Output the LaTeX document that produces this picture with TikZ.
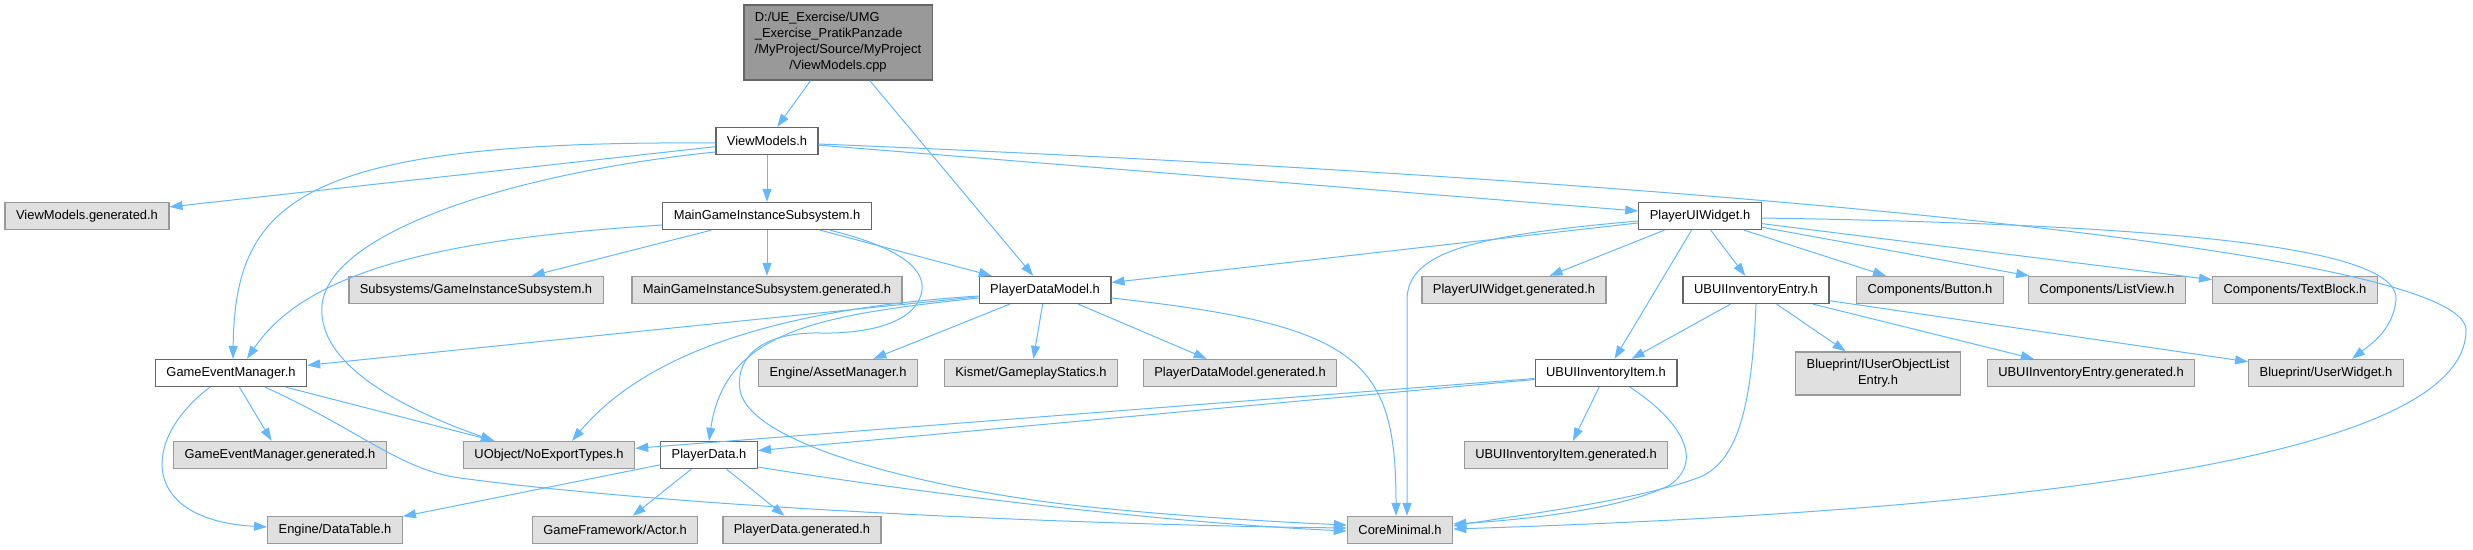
\documentclass[tikz,border=0pt]{standalone}
\usepackage{fontspec}
\setmainfont{Liberation Sans}
\usepackage{xcolor}
\usetikzlibrary{arrows.meta}
\definecolor{edgeC}{HTML}{63B8FF}
\definecolor{rootC}{HTML}{999999}
\definecolor{lineC}{HTML}{666666}
\definecolor{extC}{HTML}{E0E0E0}
\definecolor{extLine}{HTML}{999999}

\begin{document}
\begin{tikzpicture}[
  x=1pt,y=-1pt,
  box/.style={draw=lineC,fill=white,line width=1.3pt,align=center,
              inner xsep=11pt,inner ysep=7.5pt,minimum height=27pt,
              font=\fontsize{12.9}{16}\selectfont},
  ext/.style={box,draw=extLine,fill=extC},
  rootbox/.style={box,fill=rootC,inner ysep=5.5pt},
  arr/.style={-{Triangle[length=13pt,width=9pt]},draw=edgeC,line width=1pt}
]
  \useasboundingbox (0,0) rectangle (2473,549);

  % Source file
  \node[rootbox] (root) at (838,42.5)
    {\begin{tabular}{@{}l@{}}D:/UE\_Exercise/UMG\\
     \_Exercise\_PratikPanzade\\
     /MyProject/Source/MyProject\\
     \multicolumn{1}{@{}c@{}}{/ViewModels.cpp}\end{tabular}};

  % Rank 1
  \node[box] (vmh) at (767,141) {ViewModels.h};

  % Rank 2
  \node[ext] (vmgen) at (87,216) {ViewModels.generated.h};
  \node[box] (mgis) at (767,216) {MainGameInstanceSubsystem.h};
  \node[box] (puw) at (1700,216) {PlayerUIWidget.h};

  % Rank 3
  \node[ext] (subsys) at (476,290) {Subsystems/GameInstanceSubsystem.h};
  \node[ext] (mgisgen) at (767,290) {MainGameInstanceSubsystem.generated.h};
  \node[box] (pdm) at (1045,290) {PlayerDataModel.h};
  \node[ext] (puwgen) at (1514,290) {PlayerUIWidget.generated.h};
  \node[box] (entry) at (1756,290) {UBUIInventoryEntry.h};
  \node[ext] (button) at (1930,290) {Components/Button.h};
  \node[ext] (listview) at (2107,290) {Components/ListView.h};
  \node[ext] (textblock) at (2295,290) {Components/TextBlock.h};

  % Rank 4
  \node[box] (gem) at (231,373) {GameEventManager.h};
  \node[ext] (asset) at (838,373) {Engine/AssetManager.h};
  \node[ext] (kismet) at (1031,373) {Kismet/GameplayStatics.h};
  \node[ext] (pdmgen) at (1240,373) {PlayerDataModel.generated.h};
  \node[box] (item) at (1606,373) {UBUIInventoryItem.h};
  \node[ext] (iuol) at (1878,373.5) {Blueprint/IUserObjectList\\Entry.h};
  \node[ext] (entrygen) at (2091,373) {UBUIInventoryEntry.generated.h};
  \node[ext] (userwidget) at (2326,373) {Blueprint/UserWidget.h};

  % Rank 5
  \node[ext] (gemgen) at (280,455) {GameEventManager.generated.h};
  \node[ext] (noexport) at (549,455) {UObject/NoExportTypes.h};
  \node[box] (pdata) at (709,455) {PlayerData.h};
  \node[ext] (itemgen) at (1566,455) {UBUIInventoryItem.generated.h};

  % Rank 6
  \node[ext] (datatable) at (335,530) {Engine/DataTable.h};
  \node[ext] (actor) at (615,530) {GameFramework/Actor.h};
  \node[ext] (pdatagen) at (802,530) {PlayerData.generated.h};
  \node[ext] (core) at (1400,530) {CoreMinimal.h};

  % Source file includes
  \draw[arr] (root) -- (vmh);
  \draw[arr] (root) -- (pdm);

  % ViewModels.h
  \draw[arr] (vmh) -- (vmgen);
  \draw[arr] (vmh) -- (mgis);
  \draw[arr] (vmh) -- (puw);
  \draw[arr] ([yshift=-2pt]vmh.west) .. controls (300,140) and (235,200)
    .. ([xshift=2pt]gem.north);
  \draw[arr] ([yshift=-11pt]vmh.west) .. controls (520,172) and (330,230)
    .. (322,305) .. controls (316,370) and (420,415)
    .. ([xshift=-55pt]noexport.north);
  \draw[arr] ([yshift=-3pt]vmh.east) .. controls (1700,180) and (2466,250)
    .. (2466,330) .. controls (2466,430) and (2200,505)
    .. ([yshift=1pt]core.east);

  % MainGameInstanceSubsystem.h
  \draw[arr] (mgis) -- (subsys);
  \draw[arr] (mgis) -- (mgisgen);
  \draw[arr] (mgis) -- (pdm);
  \draw[arr] ([yshift=-9pt]mgis.west) .. controls (461,238) and (310,265)
    .. ([xshift=16pt]gem.north);
  \draw[arr] ([xshift=63pt]mgis.south) .. controls (890,245) and (925,265)
    .. (922,290) .. controls (918,322) and (870,334)
    .. (820,333) .. controls (765,332) and (735,355)
    .. (740,390) .. controls (750,450) and (960,495)
    .. (1100,508) .. controls (1200,518) and (1300,523)
    .. ([yshift=5pt]core.west);

  % PlayerUIWidget.h
  \draw[arr] (puw) -- (pdm);
  \draw[arr] (puw) -- (puwgen);
  \draw[arr] (puw) -- (item);
  \draw[arr] (puw) -- (entry);
  \draw[arr] (puw) -- (button);
  \draw[arr] (puw) -- (listview);
  \draw[arr] (puw) -- (textblock);
  \draw[arr] ([yshift=-5pt]puw.west) .. controls (1480,235) and (1407,250)
    .. (1407,300) -- ([xshift=7pt]core.north);
  \draw[arr] ([yshift=-2pt]puw.east) .. controls (2200,225) and (2400,250)
    .. (2396,300) .. controls (2393,330) and (2370,345)
    .. ([xshift=26pt]userwidget.north);

  % UBUIInventoryEntry.h
  \draw[arr] (entry) -- (item);
  \draw[arr] (entry) -- (iuol);
  \draw[arr] (entry) -- (entrygen);
  \draw[arr] (entry) -- (userwidget);
  \draw[arr] (entry.south) .. controls (1752,400) and (1740,460)
    .. (1700,477) .. controls (1640,500) and (1520,515)
    .. ([yshift=4pt]core.east);

  % PlayerDataModel.h
  \draw[arr] (pdm) -- (gem);
  \draw[arr] (pdm) -- (asset);
  \draw[arr] (pdm) -- (kismet);
  \draw[arr] (pdm) -- (pdmgen);
  \draw[arr] ([yshift=-6pt]pdm.west) .. controls (760,310) and (640,360)
    .. ([xshift=23pt]noexport.north);
  \draw[arr] ([yshift=-8pt]pdm.west) .. controls (820,315) and (725,330)
    .. (pdata.north);
  \draw[arr] ([yshift=-8pt]pdm.east) .. controls (1360,325) and (1396,360)
    .. ([xshift=-4pt]core.north);

  % GameEventManager.h
  \draw[arr] (gem) -- (gemgen);
  \draw[arr] (gem) -- (noexport);
  \draw[arr] ([xshift=-21pt]gem.south) .. controls (140,440) and (140,520)
    .. ([yshift=3pt]datatable.west);
  \draw[arr] ([xshift=34pt]gem.south) .. controls (360,430) and (400,470)
    .. (460,478) .. controls (700,510) and (1100,525)
    .. ([yshift=2pt]core.west);

  % UBUIInventoryItem.h
  \draw[arr] (item) -- (noexport);
  \draw[arr] (item) -- (pdata);
  \draw[arr] (item) -- (itemgen);
  \draw[arr] ([xshift=24pt]item.south) .. controls (1680,420) and (1705,460)
    .. (1670,485) .. controls (1620,510) and (1520,520)
    .. ([yshift=6pt]core.east);

  % PlayerData.h
  \draw[arr] (pdata) -- (datatable);
  \draw[arr] (pdata) -- (actor);
  \draw[arr] (pdata) -- (pdatagen);
  \draw[arr] ([yshift=-12pt]pdata.east) .. controls (900,490) and (1150,522)
    .. ([yshift=-1pt]core.west);
\end{tikzpicture}
\end{document}
